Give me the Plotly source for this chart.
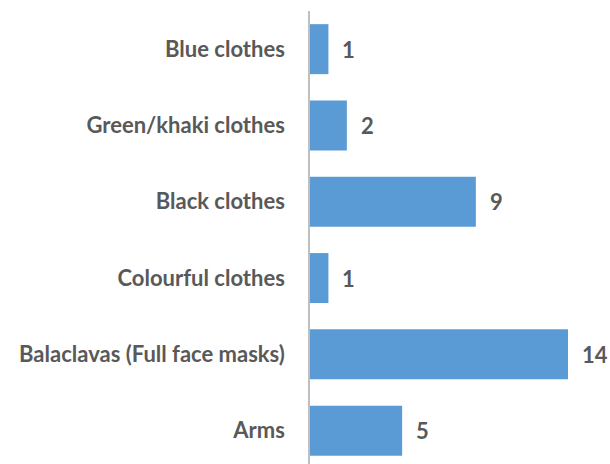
import plotly.graph_objects as go

categories = ["Blue clothes", "Green/khaki clothes", "Black clothes",
              "Colourful clothes", "Balaclavas (Full face masks)", "Arms"]
values = [1, 2, 9, 1, 14, 5]

BAR = "#5B9BD5"
TXT = "#595959"
FONT = "Lato"
FSIZE = 22

fig = go.Figure(go.Bar(
    y=categories, x=values, orientation="h",
    marker=dict(color=BAR, line=dict(width=0)),
    hoverinfo="skip",
))

for c, v in zip(categories, values):
    fig.add_annotation(x=v, y=c, text=f"<b>{v}</b>", showarrow=False,
                       xanchor="left", xshift=12,
                       font=dict(family=FONT, size=FSIZE, color=TXT))

fig.update_layout(
    width=610, height=464,
    margin=dict(l=310, r=0, t=11, b=0),
    paper_bgcolor="white", plot_bgcolor="white",
    bargap=0.345,
    showlegend=False,
    xaxis=dict(range=[0, 16.28], visible=False, fixedrange=True),
    yaxis=dict(
        categoryorder="array", categoryarray=categories,
        range=[5.437, -0.5],
        showgrid=False, zeroline=False,
        showline=True, linecolor="#BFBFBF", linewidth=1.5,
        ticks="", ticklabelstandoff=19,
        tickfont=dict(family=FONT, size=FSIZE, color=TXT, weight="bold"),
        automargin=False,
    ),
)

fig.write_html(
    "out.html",
    config={"displayModeBar": False},
    post_script="document.body.style.margin='0';document.body.style.overflow='hidden';",
)
